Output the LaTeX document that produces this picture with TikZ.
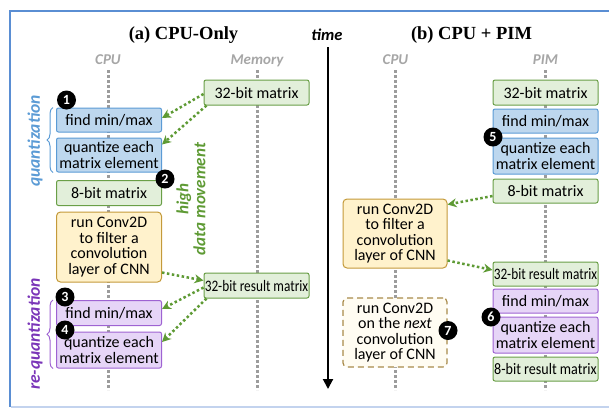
\documentclass[tikz,border=0pt]{standalone}
\usepackage{fontspec}
\usepackage{graphicx}
\setmainfont{Liberation Serif}
\newfontfamily\carl{Carlito}
\usetikzlibrary{arrows.meta,positioning,decorations.pathreplacing}
\definecolor{bluefill}{HTML}{BDD7EE}
\definecolor{blueline}{HTML}{5B9BD5}
\definecolor{greenfill}{HTML}{E2EFDA}
\definecolor{greenline}{HTML}{6A9F47}
\definecolor{orangefill}{HTML}{FFF2CC}
\definecolor{orangeline}{HTML}{C49A3A}
\definecolor{purplefill}{HTML}{E6D5F7}
\definecolor{purpleline}{HTML}{9E63D2}
\definecolor{nextfill}{HTML}{FFFCF2}
\definecolor{nextline}{HTML}{A88A4A}
\definecolor{lanegray}{HTML}{9C9C9C}
\definecolor{labelgray}{HTML}{A6A6A6}
\definecolor{movegreen}{HTML}{5E9A34}
\definecolor{quantblue}{HTML}{5B9BD5}
\definecolor{requantpurple}{HTML}{7A35B8}
\definecolor{framecol}{HTML}{5A8ED3}
\definecolor{framelight}{HTML}{C3D3EE}
\newcommand{\cnd}[2][0.83]{\scalebox{#1}[1]{#2}}

\begin{document}
\begin{tikzpicture}[
    x=1pt, y=-1pt,
    box/.style={rectangle, draw, line width=1pt, rounded corners=2pt, inner sep=0pt, align=center, minimum width=105pt, font=\carl\fontsize{16}{15.5}\selectfont},
    qbox/.style={box, fill=bluefill, draw=blueline},
    mbox/.style={box, fill=greenfill, draw=greenline},
    cbox/.style={box, fill=orangefill, draw=orangeline, rounded corners=4pt},
    rbox/.style={box, fill=purplefill, draw=purpleline},
    nbox/.style={box, fill=nextfill, draw=nextline, line width=1.2pt, dash pattern=on 6pt off 4pt, rounded corners=4pt},
    badge/.style={circle, fill=black, text=white, inner sep=0pt, minimum size=19pt, font=\carl\bfseries\fontsize{14}{14}\selectfont},
    lane/.style={draw=lanegray, line width=3pt, dash pattern=on 3pt off 2pt},
    move/.style={-{Stealth[length=9pt,width=9pt]}, draw=movegreen, line width=2.5pt, dash pattern=on 2.5pt off 2.5pt},
    lbl/.style={text=labelgray, font=\carl\bfseries\itshape\fontsize{15}{15}\selectfont, inner sep=1pt, text depth=0pt},
    ttl/.style={font=\bfseries\fontsize{18.5}{18.5}\selectfont},
    side/.style={font=\carl\bfseries\itshape\fontsize{17.5}{17}\selectfont, rotate=90, align=center},
    brc/.style={decorate, decoration={brace, amplitude=6pt}, line width=1pt}
]
    \useasboundingbox (0,0) rectangle (609,408);
    \draw[framecol, line width=2pt] (609,11) -- (9.5,11) -- (9.5,406.5);
    \draw[framelight, line width=2pt] (10.5,406.5) -- (609,406.5);

    \node[ttl] (TA) at (183.5,35) {(a) CPU-Only};
    \node[ttl] (TB) at (471.5,35) {(b) CPU + PIM};
    \node[font=\carl\bfseries\itshape\fontsize{16.5}{16.5}\selectfont] (TM) at (327,35) {time};
    \coordinate (TEND) at (328,389);
    \draw[-{Triangle[length=10pt,width=10pt]}, line width=2pt] (TM.south -| TEND) ++(0,3) -- (TEND);

    \coordinate (LC) at (108,70);
    \coordinate (LM) at (257,70);
    \coordinate (RC) at (395.5,70);
    \coordinate (RP) at (545.5,70);
    \foreach \c in {LC,LM,RC,RP}
        \draw[lane] (\c) -- ++(0,320);
    \node[lbl, above=4pt of LC] {CPU};
    \node[lbl, above=4pt of LM] {Memory};
    \node[lbl, above=4pt of RC] {CPU};
    \node[lbl, above=4pt of RP] {PIM};

    \node[qbox, minimum height=24pt] (LF) at (109,120) {find min/max};
    \node[qbox, minimum height=34pt] (LQ) at (109,155) {quantize each\\matrix element};
    \node[mbox, minimum height=25pt] (L8) at (109,193) {8-bit matrix};
    \node[cbox, minimum height=70pt] (LCV) at (109,247) {run Conv2D\\to filter a\\convolution\\layer of CNN};
    \node[rbox, minimum height=25pt] (LRF) at (109,313) {find min/max};
    \node[rbox, minimum height=36pt] (LRQ) at (109,350) {quantize each\\matrix element};
    \node[mbox, minimum height=25pt] (M32) at (256.5,92.5) {32-bit matrix};
    \node[mbox, minimum height=25pt] (MR) at (256.5,285.5) {\cnd{32-bit result matrix}};

    \node[cbox, minimum width=104pt, minimum height=69pt] (RCV) at (395,233.5) {run Conv2D\\to filter a\\convolution\\layer of CNN};
    \node[nbox, minimum width=104pt, minimum height=69pt] (RNX) at (395,332.5) {run Conv2D\\on the \textit{next}\\convolution\\layer of CNN};
    \node[mbox, minimum height=25pt] (P32) at (545.5,92.5) {32-bit matrix};
    \node[qbox, minimum height=24pt] (PF) at (545.5,121) {find min/max};
    \node[qbox, minimum height=36pt] (PQ) at (545.5,156) {quantize each\\matrix element};
    \node[mbox, minimum height=24pt] (P8) at (545.5,191) {8-bit matrix};
    \node[mbox, minimum height=24pt] (PR) at (545.5,274) {\cnd{32-bit result matrix}};
    \node[rbox, minimum height=24pt] (PRF) at (545.5,301) {find min/max};
    \node[rbox, minimum height=36pt] (PRQ) at (545.5,335) {quantize each\\matrix element};
    \node[mbox, minimum height=24pt] (P8R) at (545.5,369) {\cnd[0.88]{8-bit result matrix}};

    \draw[move] ([yshift=-1.5pt]M32.west) -- ([yshift=2pt]LF.east);
    \draw[move] ([xshift=3pt]M32.south west) -- ([yshift=-7pt]LQ.north east);
    \draw[move] ([yshift=10pt]LCV.south east) -- ([yshift=5pt]MR.west);
    \draw[move] ([yshift=-2pt]MR.west) -- ([yshift=4pt]LRF.east);
    \draw[move] ([xshift=3pt]MR.south west) -- ([yshift=8pt]LRQ.east);
    \draw[move] ([yshift=-5pt]P8.west) -- ([yshift=-6pt]RCV.north east);
    \draw[move] ([yshift=8pt]RCV.south east) -- ([yshift=4pt]PR.west);

    \draw[brc, blueline] ([xshift=-3pt]LQ.south west) -- ([xshift=-3pt]LF.north west);
    \draw[brc, purpleline] ([xshift=-3pt]LRQ.south west) -- ([xshift=-3pt]LRF.north west);
    \node[side, text=quantblue] (QL) at (35,141) {quantization};
    \node[side, text=requantpurple] (RQL) at (35,334) {re-quantization};
    \node[side, text=movegreen, font=\carl\bfseries\itshape\fontsize{17}{17}\selectfont] (HDM) at (191,199) {high\\data movement};

    \node[badge] (B1) at (66.5,100) {1};
    \node[badge] (B2) at (165,179) {2};
    \node[badge] (B3) at (65,297) {3};
    \node[badge] (B4) at (65,330) {4};
    \node[badge] (B5) at (493,137) {5};
    \node[badge] (B6) at (491,317) {6};
    \node[badge] (B7) at (448,330.5) {7};
\end{tikzpicture}
\end{document}
